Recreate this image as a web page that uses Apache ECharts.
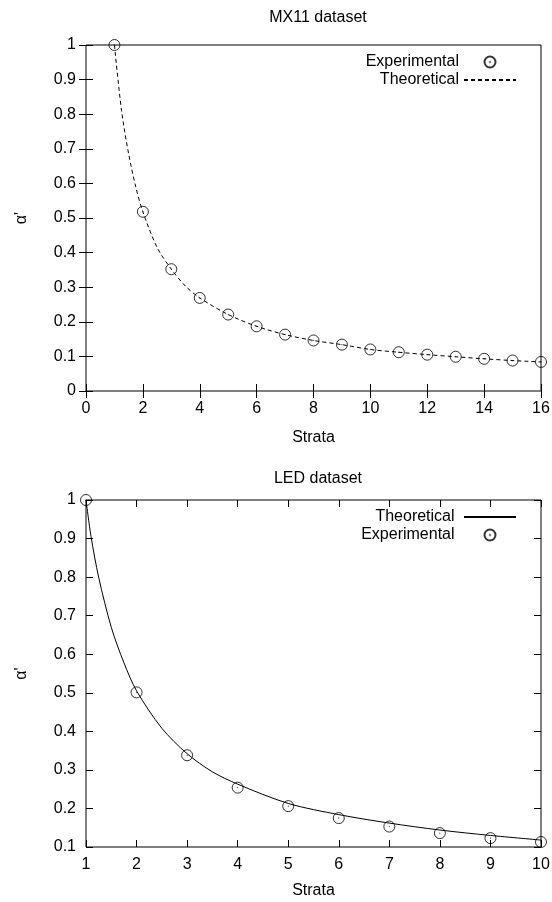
<!DOCTYPE html>
<html>
<head>
<meta charset="utf-8">
<script src="https://cdn.jsdelivr.net/npm/echarts@6/dist/echarts.min.js"></script>
<style>
  html, body { margin: 0; padding: 0; background: #fff; }
  #chart { width: 552px; height: 902px; }
</style>
</head>
<body>
<div id="chart"></div>
<script>
// MX11 dataset (top panel)
const mxStrata = [1, 2, 3, 4, 5, 6, 7, 8, 9, 10, 11, 12, 13, 14, 15, 16];
const mxExperimental = [1.0, 0.518, 0.352, 0.269, 0.221, 0.187, 0.163, 0.146, 0.134, 0.12, 0.112, 0.105, 0.099, 0.093, 0.088, 0.084];
const mxTheoryX = [1, 1.25, 1.5, 1.75, 2, 2.5, 3, 3.5, 4, 5, 6, 7, 8, 9, 10, 11, 12, 13, 14, 15, 16];
const mxTheoretical = [1.0, 0.81, 0.685, 0.59, 0.518, 0.415, 0.352, 0.303, 0.269, 0.221, 0.187, 0.163, 0.146, 0.134, 0.12, 0.112, 0.105, 0.099, 0.093, 0.088, 0.084];

// LED dataset (bottom panel)
const ledStrata = [1, 2, 3, 4, 5, 6, 7, 8, 9, 10];
const ledExperimental = [1.0, 0.501, 0.338, 0.254, 0.206, 0.175, 0.153, 0.136, 0.123, 0.113];
const ledTheoryX = [1, 1.1, 1.25, 1.5, 1.75, 2, 2.5, 3, 3.5, 4, 5, 6, 7, 8, 9, 10];
const ledTheoretical = [1.0, 0.905, 0.8, 0.67, 0.578, 0.505, 0.408, 0.342, 0.295, 0.263, 0.213, 0.184, 0.162, 0.144, 0.13, 0.118];

const pairs = (xs, ys) => xs.map((x, i) => [x, ys[i]]);

const FONT = 'Liberation Sans';
const txt = { fontFamily: FONT, fontSize: 16, color: '#000' };
// circle with a dot in the middle, like gnuplot pt 6
const ringDot = 'path://M0,10A10,10,0,1,1,20,10A10,10,0,1,1,0,10ZM9.6,10A0.4,0.4,0,1,1,10.4,10A0.4,0.4,0,1,1,9.6,10Z';

const tick = { show: true, inside: true, length: 7, lineStyle: { color: '#000', width: 1 } };

function xAxes(gridIndex, min, max, interval, gap) {
    return [
        {
            gridIndex: gridIndex, type: 'value', min: min, max: max, interval: interval,
            position: 'bottom',
            name: 'Strata', nameLocation: 'middle', nameGap: gap, nameTextStyle: txt,
            axisLine: { show: false }, axisTick: tick, splitLine: { show: false },
            axisLabel: Object.assign({ margin: 10 }, txt)
        },
        {
            gridIndex: gridIndex, type: 'value', min: min, max: max, interval: interval,
            position: 'top',
            axisLine: { show: false }, axisTick: tick, splitLine: { show: false },
            axisLabel: { show: false }
        }
    ];
}
function yAxes(gridIndex, min, max) {
    return [
        {
            gridIndex: gridIndex, type: 'value', min: min, max: max, interval: 0.1,
            position: 'left',
            name: "α'", nameLocation: 'middle', nameGap: 56, nameTextStyle: txt,
            axisLine: { show: false }, axisTick: tick, splitLine: { show: false },
            axisLabel: Object.assign({ margin: 10 }, txt)
        },
        {
            gridIndex: gridIndex, type: 'value', min: min, max: max, interval: 0.1,
            position: 'right',
            axisLine: { show: false }, axisTick: tick, splitLine: { show: false },
            axisLabel: { show: false }
        }
    ];
}

const expStyle = { color: 'transparent', borderColor: '#000', borderWidth: 1 };
const noDot = { opacity: 0 };

var myChart = echarts.init(document.getElementById('chart'));
myChart.setOption({
    backgroundColor: '#fff',
    animation: false,
    title: [
        { text: 'MX11 dataset', left: 313, top: 5, textAlign: 'center', textStyle: Object.assign({ fontWeight: 'normal' }, txt) },
        { text: 'LED dataset', left: 313, top: 466, textAlign: 'center', textStyle: Object.assign({ fontWeight: 'normal' }, txt) }
    ],
    grid: [
        { left: 86, right: 11, top: 45, bottom: 511, show: true, borderColor: '#000', borderWidth: 1, outerBoundsMode: 'none' },
        { left: 86, right: 11, top: 500, bottom: 55, show: true, borderColor: '#000', borderWidth: 1, outerBoundsMode: 'none' }
    ],
    xAxis: xAxes(0, 0, 16, 2, 39).concat(xAxes(1, 1, 10, 1, 36)),
    yAxis: yAxes(0, 0, 1).concat(yAxes(1, 0.1, 1)),
    legend: [
        {
            data: ['Experimental', { name: 'Theoretical', itemStyle: noDot }],
            orient: 'vertical', align: 'right', right: 30, top: 49,
            itemWidth: 52, itemHeight: 11, itemGap: 2,
            textStyle: Object.assign({ lineHeight: 16 }, txt),
            selectedMode: false
        },
        {
            data: [{ name: 'Theoretical ', itemStyle: noDot }, 'Experimental '],
            orient: 'vertical', align: 'right', right: 30, top: 504,
            itemWidth: 52, itemHeight: 11, itemGap: 2,
            textStyle: Object.assign({ lineHeight: 16 }, txt),
            selectedMode: false
        }
    ],
    series: [
        {
            name: 'Theoretical', type: 'line', xAxisIndex: 0, yAxisIndex: 0,
            data: pairs(mxTheoryX, mxTheoretical), smooth: 0.3, symbol: 'none',
            lineStyle: { color: '#000', width: 1, type: [4, 3] }, itemStyle: { color: '#000' }
        },
        {
            name: 'Experimental', type: 'scatter', xAxisIndex: 0, yAxisIndex: 0,
            data: pairs(mxStrata, mxExperimental), symbol: ringDot, symbolSize: 11,
            itemStyle: expStyle
        },
        {
            name: 'Theoretical ', type: 'line', xAxisIndex: 2, yAxisIndex: 2,
            data: pairs(ledTheoryX, ledTheoretical), smooth: 0.3, symbol: 'none',
            lineStyle: { color: '#000', width: 1 }, itemStyle: { color: '#000' }
        },
        {
            name: 'Experimental ', type: 'scatter', xAxisIndex: 2, yAxisIndex: 2,
            data: pairs(ledStrata, ledExperimental), symbol: ringDot, symbolSize: 11,
            itemStyle: expStyle
        }
    ]
});
</script>
</body>
</html>
